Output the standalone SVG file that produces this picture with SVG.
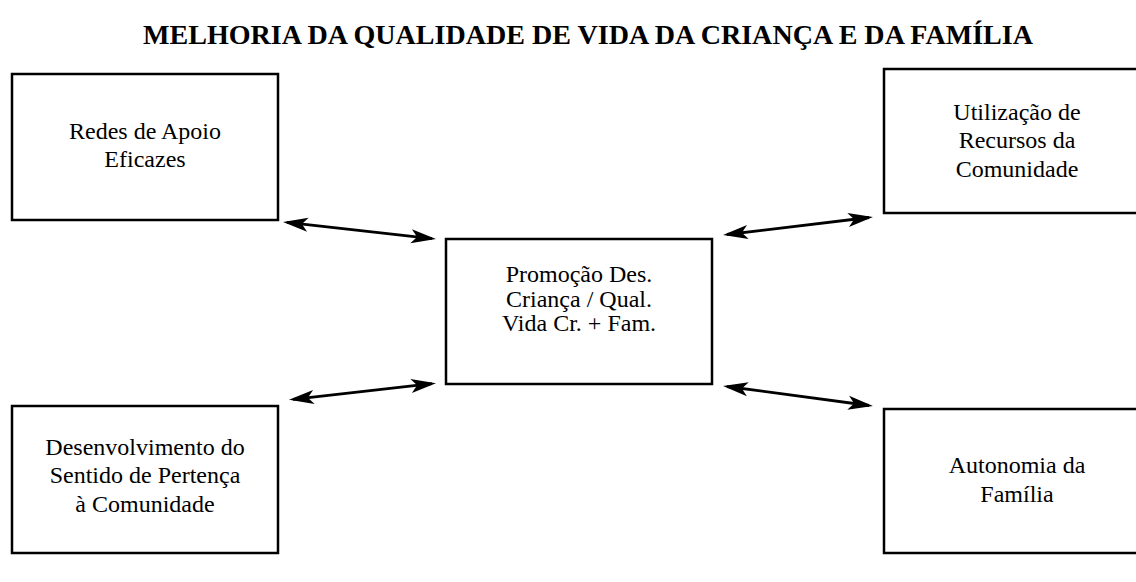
<svg xmlns="http://www.w3.org/2000/svg" width="1136" height="582" viewBox="0 0 1136 582">
<style>
.box{fill:#fff;stroke:#000;stroke-width:2.5}
.t{font-family:"Liberation Serif","Times New Roman",serif;font-size:24px;fill:#000;text-anchor:middle}
.title{font-family:"Liberation Serif","Times New Roman",serif;font-size:27px;font-weight:bold;fill:#000;text-anchor:middle}
.c{stroke:#000;stroke-width:2.8;fill:none;marker-start:url(#ah);marker-end:url(#ah)}
</style>
<defs>
<marker id="ah" markerUnits="userSpaceOnUse" markerWidth="26" markerHeight="18" viewBox="0 0 26 18" refX="21" refY="9" orient="auto-start-reverse">
<path d="M0,2 L25,9 L0,16 L6,9 z" fill="#000"/>
</marker>
</defs>
<rect width="1136" height="582" fill="#fff"/>
<text class="title" x="588" y="44" textLength="890" lengthAdjust="spacingAndGlyphs">MELHORIA DA QUALIDADE DE VIDA DA CRIANÇA E DA FAMÍLIA</text>
<g id="connectors">
<line class="c" x1="287" y1="222.4" x2="432" y2="238.6"/>
<line class="c" x1="293" y1="399.4" x2="432" y2="383.6"/>
<line class="c" x1="727" y1="234.5" x2="869" y2="217.5"/>
<line class="c" x1="727" y1="386.5" x2="869" y2="405.5"/>
</g>
<g id="redes">
<rect class="box" x="12" y="74" width="266" height="146"/>
<text class="t" x="145" y="139">Redes de Apoio</text>
<text class="t" x="145" y="167">Eficazes</text>
</g>
<g id="utilizacao">
<rect class="box" x="884" y="69" width="266" height="144"/>
<text class="t" x="1017" y="120">Utilização de</text>
<text class="t" x="1017" y="148">Recursos da</text>
<text class="t" x="1017" y="176.5">Comunidade</text>
</g>
<g id="promocao">
<rect class="box" x="446" y="239" width="266" height="145"/>
<text class="t" x="579" y="282">Promoção Des.</text>
<text class="t" x="579" y="306.5">Criança / Qual.</text>
<text class="t" x="579" y="331">Vida Cr. + Fam.</text>
</g>
<g id="desenvolvimento">
<rect class="box" x="12" y="406" width="266" height="147"/>
<text class="t" x="145" y="455">Desenvolvimento do</text>
<text class="t" x="145" y="483">Sentido de Pertença</text>
<text class="t" x="145" y="512">à Comunidade</text>
</g>
<g id="autonomia">
<rect class="box" x="884" y="409" width="266" height="144"/>
<text class="t" x="1017" y="473">Autonomia da</text>
<text class="t" x="1017" y="502">Família</text>
</g>
</svg>
